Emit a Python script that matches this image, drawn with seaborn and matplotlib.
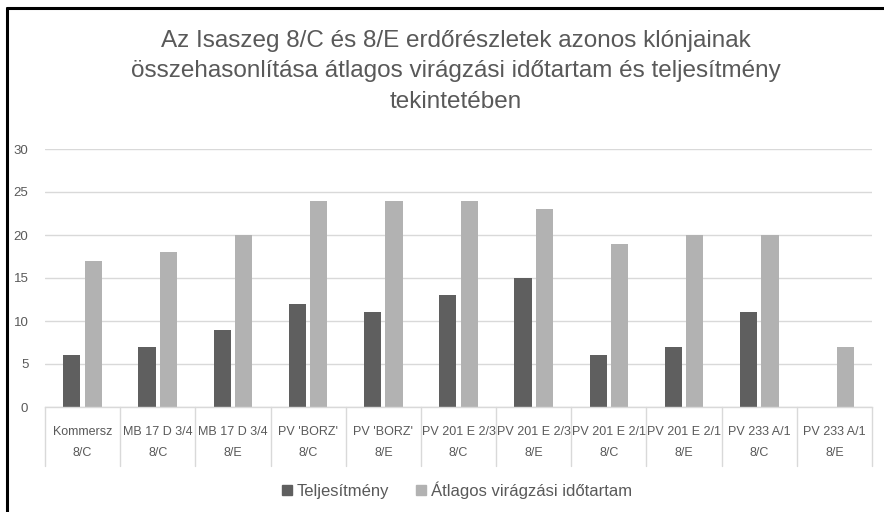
import numpy as np
import pandas as pd
import matplotlib
matplotlib.use("Agg")
import matplotlib.pyplot as plt
from matplotlib.lines import Line2D
import matplotlib.transforms as mtransforms
import seaborn as sns

clones = ["Kommersz", "MB 17 D 3/4", "MB 17 D 3/4", "PV 'BORZ'", "PV 'BORZ'",
          "PV 201 E 2/3", "PV 201 E 2/3", "PV 201 E 2/1", "PV 201 E 2/1",
          "PV 233 A/1", "PV 233 A/1"]
stands = ["8/C", "8/C", "8/E", "8/C", "8/E", "8/C", "8/E", "8/C", "8/E", "8/C", "8/E"]
teljesitmeny = [6, 7, 9, 12, 11, 13, 15, 6, 7, 11, 0]
atlagos = [17, 18, 20, 24, 24, 24, 23, 19, 20, 20, 7]
series_names = ["Teljesítmény", "Átlagos virágzási időtartam"]
title = ("Az Isaszeg 8/C és 8/E erdőrészletek azonos klónjainak\n"
         "összehasonlítása átlagos virágzási időtartam és teljesítmény\n"
         "tekintetében")

sns.set_theme(style="white")
plt.rcParams['font.family'] = ['Liberation Sans', 'DejaVu Sans']

keys = [f"{i}" for i in range(len(clones))]
df = pd.DataFrame({
    "key": keys * 2,
    "value": teljesitmeny + atlagos,
    "series": [series_names[0]] * len(keys) + [series_names[1]] * len(keys),
})

fig = plt.figure(figsize=(8.84, 5.12), dpi=100)
ax = fig.add_axes([45/884, 1 - 407/512, (872 - 45)/884, (407 - 149)/512])

palette = {series_names[0]: "#5f5f5f", series_names[1]: "#b2b2b2"}
sns.barplot(data=df, x="key", y="value", hue="series", order=keys,
            palette=palette, width=0.57, gap=0.2, linewidth=0, ax=ax,
            legend=False)

ax.set_ylim(0, 30)
ax.set_xlim(-0.5, len(keys) - 0.5)
ax.set_yticks([0, 5, 10, 15, 20, 25, 30])
ax.yaxis.grid(True, color="#d9d9d9", linewidth=1)
ax.set_axisbelow(True)
for s in ["top", "right", "left"]:
    ax.spines[s].set_visible(False)
ax.spines["bottom"].set_color("#d9d9d9")
ax.spines["bottom"].set_linewidth(1)
ax.tick_params(axis="y", length=0, pad=12, labelsize=9.5, labelcolor="#595959")
ax.tick_params(axis="x", length=0, labelbottom=False)
ax.set_xlabel("")
ax.set_ylabel("")

trans = mtransforms.blended_transform_factory(ax.transData, ax.transAxes)
for i, (c, s) in enumerate(zip(clones, stands)):
    ax.text(i, -0.097, c, transform=trans, ha="center", va="center",
            fontsize=9, color="#595959")
    ax.text(i, -0.178, s, transform=trans, ha="center", va="center",
            fontsize=9, color="#595959")
for b in np.arange(-0.5, len(keys), 1.0):
    ax.add_line(Line2D([b, b], [0, -0.229], transform=trans, color="#d9d9d9",
                       linewidth=1, clip_on=False))

fig.text(456/884, 1 - 71/512, title, ha="center", va="center", fontsize=17.5,
         color="#595959", linespacing=1.5)

handles = [plt.Rectangle((0, 0), 1, 1, color=palette[n]) for n in series_names]
fig.legend(handles, series_names, loc="center", bbox_to_anchor=(457/884, 1 - 490/512),
           ncol=2, frameon=False, fontsize=12, handlelength=0.6, handleheight=0.6,
           handletextpad=0.3, columnspacing=1.6, labelcolor="#595959")

fig.add_artist(Line2D([7.5/884, 1], [1 - 7.5/512, 1 - 7.5/512], transform=fig.transFigure,
                      color="black", linewidth=2.2))
fig.add_artist(Line2D([7.5/884, 7.5/884], [0, 1 - 7.5/512], transform=fig.transFigure,
                      color="black", linewidth=2.2))

fig.savefig("out.png", dpi=100, facecolor="white")
